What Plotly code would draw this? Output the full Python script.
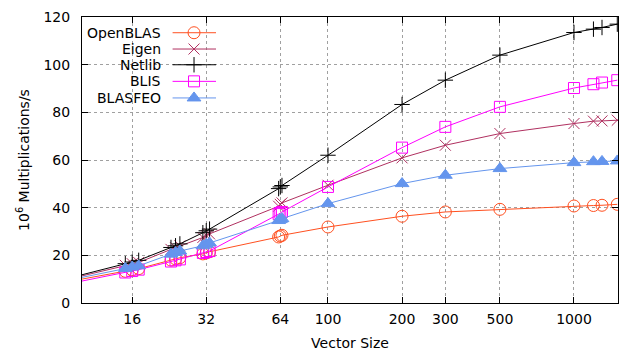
import plotly.graph_objects as go
import math

# ---- data ----
vector_size = [8, 15, 16, 17, 23, 24, 25, 31, 32, 33, 63, 64, 65, 100, 200, 300, 500, 1000, 1200, 1300, 1500]
openblas = [8.2, 13.3, 13.9, 14.4, 18.0, 18.5, 19.0, 20.6, 21.0, 21.5, 27.7, 28.1, 28.4, 31.9, 36.4, 38.2, 39.3, 40.7, 40.9, 41.0, 41.4]
eigen = [9.0, 15.8, 16.5, 17.0, 22.5, 23.2, 24.0, 27.5, 28.3, 29.0, 40.6, 41.4, 42.0, 49.4, 60.9, 66.2, 71.1, 75.3, 76.3, 76.4, 76.7]
netlib = [9.3, 16.5, 17.2, 17.9, 23.3, 24.0, 24.8, 29.5, 30.3, 31.0, 48.0, 48.7, 49.3, 62.0, 83.3, 93.5, 104.0, 113.5, 114.9, 115.6, 117.0]
blis = [7.2, 12.8, 13.4, 14.0, 17.4, 17.9, 18.3, 21.0, 21.4, 21.8, 37.3, 37.8, 38.2, 48.7, 65.2, 73.9, 82.3, 90.2, 91.8, 92.5, 93.5]
blasfeo = [8.7, 14.5, 15.1, 15.6, 20.5, 21.2, 21.8, 24.0, 24.6, 25.2, 34.6, 35.0, 35.4, 41.7, 50.1, 53.6, 56.4, 58.9, 59.3, 59.4, 59.6]

series_names = ["OpenBLAS", "Eigen", "Netlib", "BLIS", "BLASFEO"]
series_values = [openblas, eigen, netlib, blis, blasfeo]

x_tickvals = [16, 32, 64, 100, 200, 300, 500, 1000]
x_ticktext = ["16", "32", "64", "100", "200", "300", "500", "1000"]
y_tickvals = [0, 20, 40, 60, 80, 100, 120]

# ---- styles ----
colors = ["#ff5020", "#b03060", "#000000", "#ff00ff", "#6495ed"]
symbols = ["circle-open", "x-thin-open", "cross-thin-open", "square-open", "triangle-up"]
sizes = [12, 11, 11, 11, 12]
FONT = "DejaVu Sans"
FS = 14

fig = go.Figure()
for name, vals, c, s, sz in zip(series_names, series_values, colors, symbols, sizes):
    fig.add_trace(go.Scatter(
        x=vector_size, y=vals, mode="lines+markers", name=name,
        line=dict(color=c, width=1),
        marker=dict(symbol=s, size=sz, color=c, line=dict(color=c, width=1)),
        showlegend=False, cliponaxis=True,
    ))

# ---- custom gnuplot-style key (on an overlay axis in [0,1]) ----
key_rows = [0.945, 0.888, 0.833, 0.775, 0.717]
key_line_x = [0.169, 0.250]
key_mark_x = 0.209
key_text_x = 0.151
for name, c, s, sz, yy in zip(series_names, colors, symbols, sizes, key_rows):
    fig.add_trace(go.Scatter(
        x=key_line_x, y=[yy, yy], mode="lines", line=dict(color=c, width=1),
        xaxis="x2", yaxis="y2", showlegend=False, hoverinfo="skip",
    ))
    fig.add_trace(go.Scatter(
        x=[key_mark_x], y=[yy], mode="markers",
        marker=dict(symbol=s, size=sz, color=c, line=dict(color=c, width=1)),
        xaxis="x2", yaxis="y2", showlegend=False, hoverinfo="skip",
    ))
    fig.add_annotation(x=key_text_x, y=yy, xref="paper", yref="paper",
                       text=name, showarrow=False, xanchor="right", yanchor="middle",
                       font=dict(family=FONT, size=FS, color="black"))

axis_common = dict(
    showline=True, linecolor="black", linewidth=1, mirror="allticks",
    ticks="inside", ticklen=6, tickcolor="black",
    showgrid=True, gridcolor="#a0a0a0", gridwidth=1, griddash="dot",
    zeroline=False, tickfont=dict(family=FONT, size=FS, color="black"),
)

fig.update_layout(
    width=623, height=354,
    margin=dict(l=82, r=5, t=17, b=51),
    paper_bgcolor="white", plot_bgcolor="white",
    font=dict(family=FONT, size=FS, color="black"),
    xaxis=dict(type="log", range=[1, math.log10(1510)],
               tickvals=x_tickvals, ticktext=x_ticktext,
               title=dict(text="Vector Size", font=dict(family=FONT, size=FS), standoff=12),
               ticklabelstandoff=3, **axis_common),
    yaxis=dict(range=[0, 120], tickvals=y_tickvals,
               title=dict(text="10<sup>6</sup> Multiplications/s", font=dict(family=FONT, size=FS), standoff=10),
               ticklabelstandoff=8, **axis_common),
    xaxis2=dict(overlaying="x", range=[0, 1], visible=False, fixedrange=True),
    yaxis2=dict(overlaying="y", range=[0, 1], visible=False, fixedrange=True),
)

fig.write_html("out.html")
